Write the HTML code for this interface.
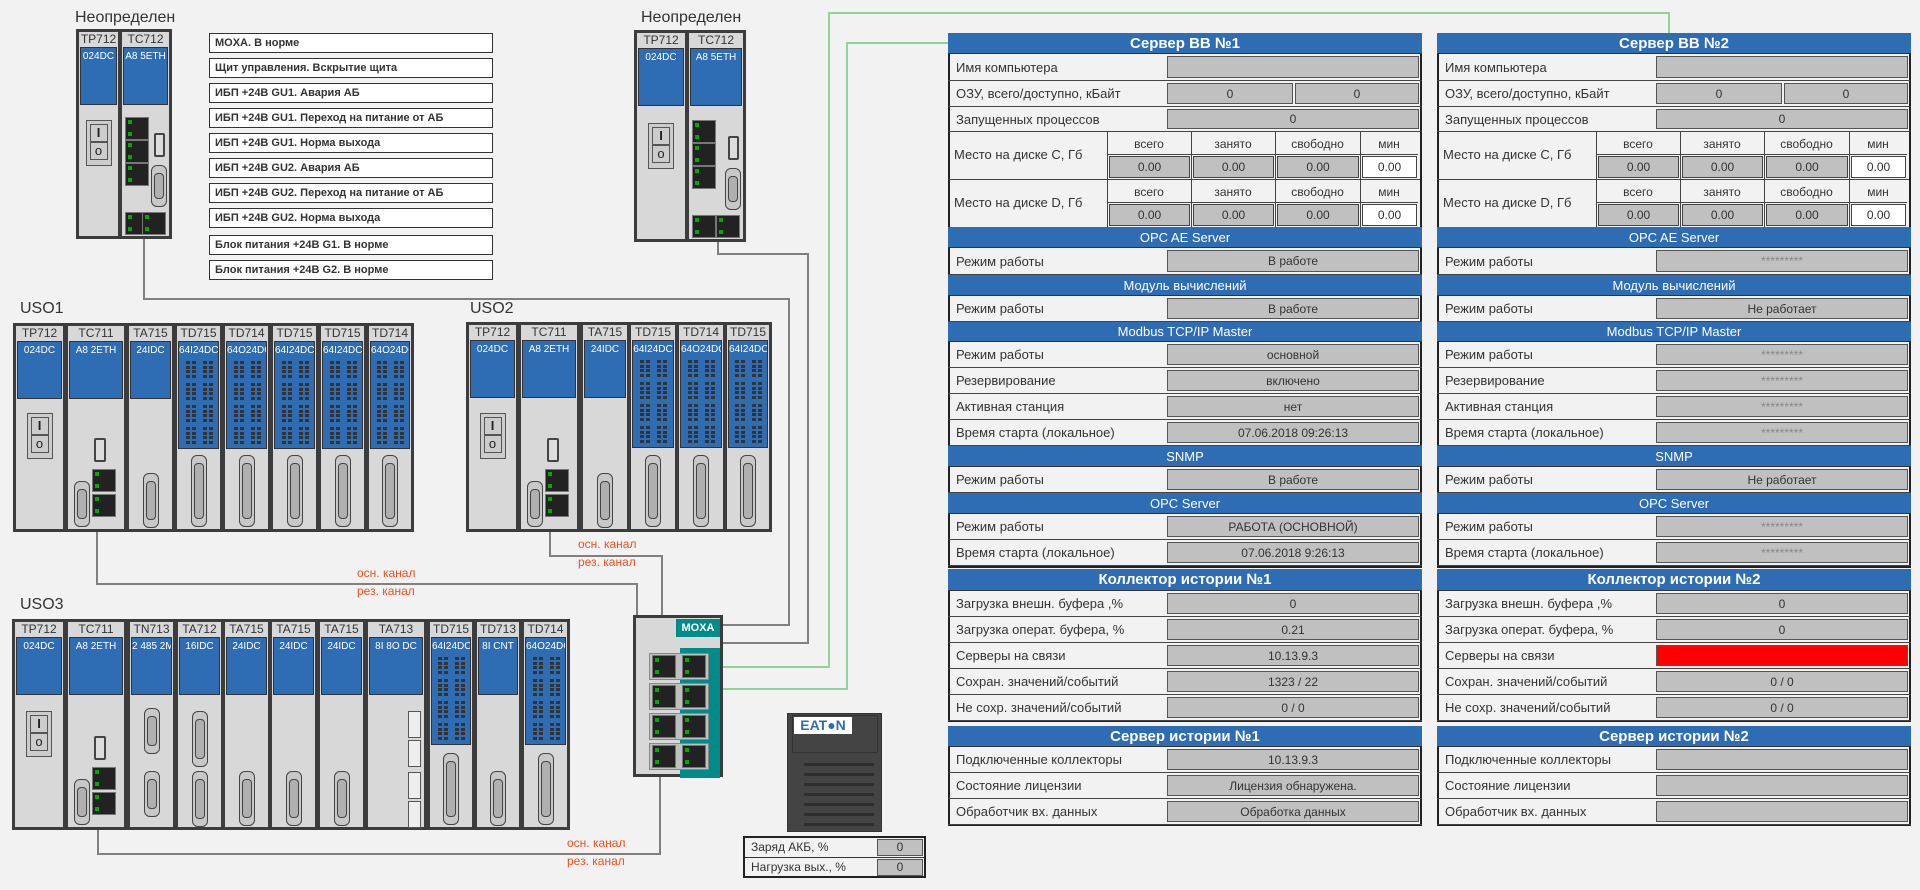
<!DOCTYPE html>
<html><head><meta charset="utf-8">
<style>
*{box-sizing:border-box;margin:0;padding:0}
body{width:1920px;height:890px;background:#f2f2f2;position:relative;overflow:hidden;font-family:"Liberation Sans","DejaVu Sans",sans-serif;color:#333}
.a{position:absolute}
.ln{position:absolute;background:#808080}
.gn{position:absolute;background:#92d496}
.lbl{position:absolute;font-size:16px;color:#333}
.al{position:absolute;left:209px;width:284px;height:20px;border:1px solid #333;background:#fff;font-size:11px;font-weight:bold;padding:3px 0 0 5px;color:#333}
.mod{position:absolute;border:3px solid #3c3c3c;background:#d8d8d8}
.mt{position:absolute;left:0;right:0;top:0px;text-align:center;font-size:12px;color:#333;white-space:nowrap;overflow:hidden}
.bl{position:absolute;left:1px;right:1px;top:15px;background:#2e6db4;border:1px solid #333;color:#fff;font-size:10px;text-align:center;padding-top:3px;white-space:nowrap;overflow:hidden}
.red{color:#f0501e;font-size:12px;position:absolute}
</style></head><body>

<div class="lbl" style="left:75px;top:9px">Неопределен</div>
<div class="lbl" style="left:641px;top:9px">Неопределен</div>
<div class="lbl" style="left:20px;top:300px">USO1</div>
<div class="lbl" style="left:470px;top:300px">USO2</div>
<div class="lbl" style="left:20px;top:596px">USO3</div>

<div class="al" style="top:33px">MOXA. В норме</div>
<div class="al" style="top:58px">Щит управления. Вскрытие щита</div>
<div class="al" style="top:83px">ИБП +24В GU1. Авария АБ</div>
<div class="al" style="top:108px">ИБП +24В GU1. Переход на питание от АБ</div>
<div class="al" style="top:133px">ИБП +24В GU1. Норма выхода</div>
<div class="al" style="top:158px">ИБП +24В GU2. Авария АБ</div>
<div class="al" style="top:183px">ИБП +24В GU2. Переход на питание от АБ</div>
<div class="al" style="top:208px">ИБП +24В GU2. Норма выхода</div>
<div class="al" style="top:235px">Блок питания +24В G1. В норме</div>
<div class="al" style="top:260px">Блок питания +24В G2. В норме</div>

<div class="ln" style="left:143px;top:238px;width:2px;height:62px"></div>
<div class="ln" style="left:143px;top:298px;width:647px;height:2px"></div>
<div class="ln" style="left:788px;top:298px;width:2px;height:328px"></div>
<div class="ln" style="left:720px;top:624px;width:70px;height:2px"></div>
<div class="ln" style="left:717px;top:241px;width:2px;height:14px"></div>
<div class="ln" style="left:717px;top:253px;width:92px;height:2px"></div>
<div class="ln" style="left:807px;top:253px;width:2px;height:391px"></div>
<div class="ln" style="left:720px;top:642px;width:89px;height:2px"></div>
<div class="gn" style="left:828px;top:12px;width:2px;height:656px"></div>
<div class="gn" style="left:828px;top:12px;width:842px;height:2px"></div>
<div class="gn" style="left:1668px;top:12px;width:2px;height:22px"></div>
<div class="gn" style="left:720px;top:666px;width:110px;height:2px"></div>
<div class="gn" style="left:846px;top:42px;width:2px;height:648px"></div>
<div class="gn" style="left:846px;top:42px;width:103px;height:2px"></div>
<div class="gn" style="left:720px;top:688px;width:128px;height:2px"></div>
<div class="ln" style="left:549px;top:530px;width:2px;height:27px"></div>
<div class="ln" style="left:549px;top:555px;width:114px;height:2px"></div>
<div class="ln" style="left:661px;top:555px;width:2px;height:61px"></div>
<div class="ln" style="left:96px;top:531px;width:2px;height:53px"></div>
<div class="ln" style="left:96px;top:583px;width:541px;height:2px"></div>
<div class="ln" style="left:636px;top:583px;width:2px;height:33px"></div>
<div class="ln" style="left:97px;top:829px;width:2px;height:25px"></div>
<div class="ln" style="left:97px;top:853px;width:564px;height:2px"></div>
<div class="ln" style="left:659px;top:775px;width:2px;height:80px"></div>
<div class="red" style="left:578px;top:537px">осн. канал</div>
<div class="red" style="left:578px;top:555px">рез. канал</div>
<div class="red" style="left:357px;top:566px">осн. канал</div>
<div class="red" style="left:357px;top:584px">рез. канал</div>
<div class="red" style="left:567px;top:836px">осн. канал</div>
<div class="red" style="left:567px;top:854px">рез. канал</div>

<div id="mods"></div>

<div class="mod" style="left:633px;top:615px;width:90px;height:162px;z-index:2">
  <div class="a" style="left:44px;top:30px;width:40px;height:130px;background:#008b8b"></div>
  <div class="a" style="left:40px;top:1px;width:44px;height:18px;background:#008b8b;color:#fff;font-size:11px;font-weight:bold;text-align:center;padding-top:3px">MOXA</div>
  <div id="mports"></div>
</div>

<div class="a" style="left:787px;top:713px;width:95px;height:119px;background:#444;border:1px solid #333">
  <div class="a" style="left:4px;top:1px;width:86px;height:38px;border:1px solid #333"></div>
  <div class="a" style="left:6px;top:3px;width:58px;height:17px;background:#fff;color:#2e6db4;font-weight:bold;font-size:14px;text-align:center;line-height:17px">EAT●N</div>
  <div id="slats"></div>
</div>
<div class="a" style="left:743px;top:836px;width:183px;height:42px;border:2px solid #222;background:#f2f2f2;font-size:12px">
  <div class="a" style="left:0;top:19px;width:179px;height:1px;background:#333"></div>
  <div class="a" style="left:6px;top:2px">Заряд АКБ, %</div>
  <div class="a" style="left:6px;top:22px">Нагрузка вых., %</div>
  <div class="a" style="left:132px;top:1px;width:46px;height:17px;background:#c0c0c0;border:1px solid #555;text-align:center">0</div>
  <div class="a" style="left:132px;top:21px;width:46px;height:17px;background:#c0c0c0;border:1px solid #555;text-align:center">0</div>
</div>

<div id="panels"></div>

<script>
function d(p,x,y,w,h,css,t){var e=document.createElement('div');e.className='a';e.style.cssText='left:'+x+'px;top:'+y+'px;width:'+w+'px;height:'+h+'px;'+(css||'');if(t!==undefined)e.textContent=t;p.appendChild(e);return e;}
var M=document.getElementById('mods');
function dsub(p,cx,y,h){d(p,cx-8,y,16,h,'border:1px solid #444;border-radius:6px;background:#c8c8c8');d(p,cx-5,y+8,10,h-16,'border:1px solid #444;border-radius:4px;background:#b0b0b0');}
function rj(p,x,y){d(p,x,y,24,23,'background:#222;border:1px solid #777');d(p,x+3,y+3,4,4,'background:#0a0');d(p,x+3,y+15,4,4,'background:#0a0');}
function mod(x,y,w,h,title,lab,type){
 var m=document.createElement('div');m.className='mod';m.style.cssText='left:'+x+'px;top:'+y+'px;width:'+w+'px;height:'+h+'px';M.appendChild(m);
 var t=document.createElement('div');t.className='mt';t.textContent=title;m.appendChild(t);
 var td=(type=='td');
 var b=document.createElement('div');b.className='bl';b.style.height=(td?108:58)+'px';b.textContent=lab;m.appendChild(b);
 var cx=(w-6)/2;
 if(td){for(var g=0;g<4;g++)for(var r=0;r<4;r++)for(var c=0;c<4;c++){d(m,cx-13+c*6+(c>1?5:0),35+g*22+r*4.5,4,3,'background:#333');}dsub(m,cx,h-80,72);}
 if(type=='ta')dsub(m,cx,h-62,55);
 if(type=='ta2'){dsub(m,cx,h-125,46);dsub(m,cx,h-62,46);}
 if(type=='ta712'){dsub(m,cx,h-122,56);dsub(m,cx,h-62,56);}
 if(type=='ta713'){for(var i=0;i<4;i++)d(m,w-22,h-122+i*29+(i>1?3:0),13,27,'border:1px solid #555;background:#eee');}
 if(type=='tp'){d(m,cx-13,h-122,26,46,'border:1px solid #555;background:#ccc');d(m,cx-9,h-118,18,18,'border:1px solid #555;color:#222;font-size:13px;font-weight:bold;text-align:center;line-height:16px','I');d(m,cx-9,h-100,18,18,'border:1px solid #555;color:#222;font-size:13px;text-align:center;line-height:16px','o');}
 if(type=='tc'){d(m,w-36,h-97,12,24,'border:2px solid #444;border-radius:2px;background:#ddd');rj(m,w-38,h-66);rj(m,w-38,h-41);dsub(m,14,h-54,46);}
 if(type=='tc5'){rj(m,3,h-125);rj(m,3,h-102);rj(m,3,h-79);rj(m,3,h-30);rj(m,w-33,h-30);d(m,w-21,h-109,11,24,'border:2px solid #444;border-radius:2px;background:#ddd');dsub(m,w-16,h-77,42);}
}
mod(76,29,45,210,'TP712','024DC','tp');mod(119,29,53,210,'TC712','A8 5ETH','tc5');
mod(634,30,54,212,'TP712','024DC','tp');mod(686,30,60,212,'TC712','A8 5ETH','tc5');
var u1=[[13,53,'TP712','024DC','tp'],[65,62,'TC711','A8 2ETH','tc'],[126,49,'TA715','24IDC','ta'],[174,49,'TD715','64I24DC','td'],[222,49,'TD714','64O24DC','td'],[270,49,'TD715','64I24DC','td'],[318,49,'TD715','64I24DC','td'],[366,48,'TD714','64O24DC','td']];
u1.forEach(function(a){mod(a[0],323,a[1],209,a[2],a[3],a[4]);});
var u2=[[466,53,'TP712','024DC','tp'],[518,62,'TC711','A8 2ETH','tc'],[580,50,'TA715','24IDC','ta'],[628,50,'TD715','64I24DC','td'],[676,50,'TD714','64O24DC','td'],[724,48,'TD715','64I24DC','td']];
u2.forEach(function(a){mod(a[0],322,a[1],210,a[2],a[3],a[4]);});
var u3=[[12,54,'TP712','024DC','tp'],[65,62,'TC711','A8 2ETH','tc'],[127,49,'TN713','2 485 2M','ta2'],[175,49,'TA712','16IDC','ta712'],[222,49,'TA715','24IDC','ta'],[269,49,'TA715','24IDC','ta'],[317,49,'TA715','24IDC','ta'],[365,62,'TA713','8I 8O DC','ta713'],[427,48,'TD715','64I24DC','td'],[474,48,'TD713','8I CNT','ta'],[521,49,'TD714','64O24DC','td']];
u3.forEach(function(a){mod(a[0],619,a[1],211,a[2],a[3],a[4]);});
var mp=document.getElementById('mports');
for(var i=0;i<4;i++){d(mp,13,35+i*30,60,27,'background:#c0c0c0;border:1px solid #888');rj(mp,16,37+i*30);rj(mp,46,37+i*30);}
var sl=document.getElementById('slats');
for(var i=0;i<7;i++)d(sl,16,49+i*10,70,3,'background:#2e2e2e');
var P=document.getElementById('panels');
function panel(x,y,w,h){return d(P,x,y,w,h,'border:2px solid #222;background:#f2f2f2');}
function hd(x,y,w,h,t,bold){d(P,x,y,w,h,'background:#2e6db4;color:#fff;text-align:center;font-size:'+(bold?15:13)+'px;font-weight:'+(bold?'bold':'normal')+';line-height:'+h+'px;border-bottom:1px solid #333',t);}
function row(x,y,w,h,lab,val,style){d(P,x,y,w,h,'border-bottom:1px solid #444');d(P,x+8,y,210,h,'font-size:13px;line-height:'+h+'px;white-space:nowrap',lab);
 if(val!==null&&val!==undefined){if(Array.isArray(val)){var bw=(w-222)/2;d(P,x+219,y+2,bw,h-5,'background:#c0c0c0;border:1px solid #555;text-align:center;font-size:12px;line-height:'+(h-6)+'px',val[0]);d(P,x+221+bw,y+2,bw-2,h-5,'background:#c0c0c0;border:1px solid #555;text-align:center;font-size:12px;line-height:'+(h-6)+'px',val[1]);}
 else d(P,x+219,y+2,w-222,h-5,'text-align:center;font-size:12px;line-height:'+(h-6)+'px;border:1px solid #555;'+(style||'background:#c0c0c0'),val);}}
function disk(x,y,lab){d(P,x,y,472,48,'border-bottom:1px solid #444');d(P,x+6,y,150,48,'font-size:13px;line-height:46px',lab);
 var cs=[[159,84,'всего'],[243,84,'занято'],[327,85,'свободно'],[412,58,'мин']];
 cs.forEach(function(c,i){d(P,x+c[0],y,c[1],48,'border-left:1px solid #444');d(P,x+c[0],y+1,c[1],22,'text-align:center;font-size:12px;line-height:22px;border-bottom:1px solid #444',c[2]);
  d(P,x+c[0]+2,y+24,c[1]-3,22,'text-align:center;font-size:12px;line-height:21px;border:1px solid #444;'+(i==3?'background:#fff':'background:#c0c0c0'),'0.00');});}
function srv(x,n,v){
 var w=474;panel(x,33,w,535);
 hd(x,33,w,21,'Сервер ВВ №'+n,1);
 row(x,54,w,27,'Имя компьютера','');
 row(x,81,w,26,'ОЗУ, всего/доступно, кБайт',['0','0']);
 row(x,107,w,25,'Запущенных процессов','0');
 disk(x,132,'Место на диске C, Гб');disk(x,180,'Место на диске D, Гб');
 hd(x,227,w,21,'OPC AE Server');row(x,248,w,27,'Режим работы',v[0],v.s[0]);
 hd(x,275,w,21,'Модуль вычислений');row(x,296,w,26,'Режим работы',v[1]);
 hd(x,322,w,20,'Modbus TCP/IP Master');
 row(x,342,w,26,'Режим работы',v[2],v.s[2]);row(x,368,w,26,'Резервирование',v[3],v.s[2]);row(x,394,w,26,'Активная станция',v[4],v.s[2]);row(x,420,w,26,'Время старта (локальное)',v[5],v.s[2]);
 hd(x,446,w,21,'SNMP');row(x,467,w,26,'Режим работы',v[6]);
 hd(x,493,w,21,'OPC Server');row(x,514,w,26,'Режим работы',v[7],v.s[2]);row(x,540,w,26,'Время старта (локальное)',v[8],v.s[2]);
}
var st='*********',sg='background:#c0c0c0;color:#888';
var v1=['В работе','В работе','основной','включено','нет','07.06.2018 09:26:13','В работе','РАБОТА (ОСНОВНОЙ)','07.06.2018 9:26:13'];v1.s=[];
var v2=[st,'Не работает',st,st,st,st,'Не работает',st,st];v2.s=[sg,null,sg];
srv(948,1,v1);srv(1437,2,v2);
function coll(x,n,vals){var w=474;panel(x,569,w,153);hd(x,569,w,22,'Коллектор истории №'+n,1);
 var L=['Загрузка внешн. буфера ,%','Загрузка операт. буфера, %','Серверы на связи','Сохран. значений/событий','Не сохр. значений/событий'];
 L.forEach(function(l,i){row(x,591+i*26,w,26,l,vals[i],(n==2&&i==2)?'background:#f00':null);});
 panel(x,726,w,100);hd(x,726,w,21,'Сервер истории №'+n,1);
 var L2=['Подключенные коллекторы','Состояние лицензии','Обработчик вх. данных'];
 L2.forEach(function(l,i){row(x,747+i*26,w,26,l,vals[5+i]);});}
coll(948,1,['0','0.21','10.13.9.3','1323 / 22','0 / 0','10.13.9.3','Лицензия обнаружена.','Обработка данных']);
coll(1437,2,['0','0','','0 / 0','0 / 0','','','']);
</script>
</body></html>
